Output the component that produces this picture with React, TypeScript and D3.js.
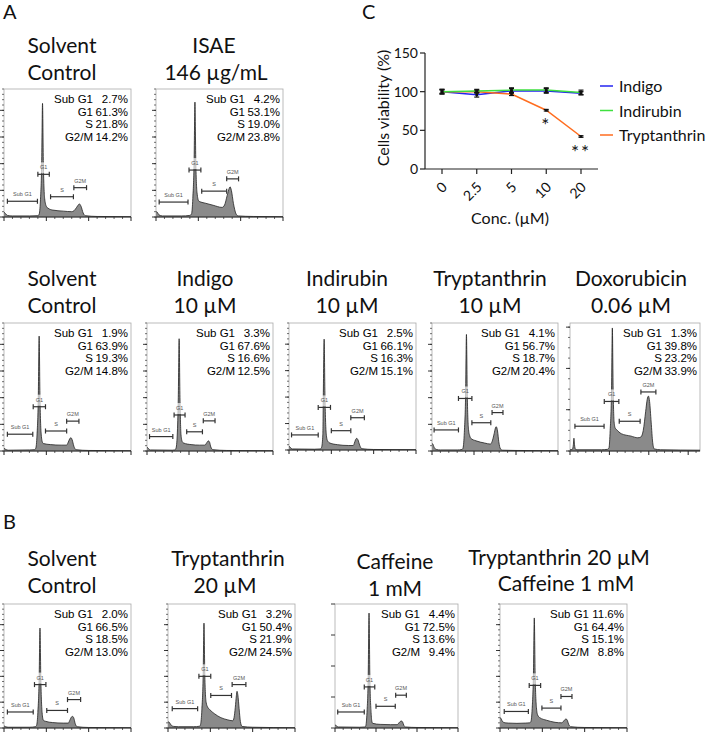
import React from 'react';
import * as d3 from 'd3';

type Pt = [number, number];
type Gate = [number, number, number];

const FONT_T = 'Lato, "Open Sans", sans-serif';
const FONT_S = '"Liberation Sans", Arial, sans-serif';
const MU = '\u00b5';

// ---------- Panel C data ----------
const concLabels = ['0', '2.5', '5', '10', '20'];
const indigoViability = [100, 96, 101, 101, 98];
const indigoErr = [3, 3, 3, 3, 2];
const indirubinViability = [100, 101, 102, 102, 99];
const indirubinErr = [3, 2, 3, 3, 3];
const tryptanthrinViability = [100, 100, 97, 76, 42];
const tryptanthrinErr = [2, 2, 2, 1, 1];
const viabilityTicks = [0, 50, 100, 150];
const significance = ['', '', '', '*', '**'];

// ---------- Histogram data: [DNA channel, count] ----------
const histA1Solvent: Pt[] = [[0,18],[4,12],[8,6],[20,4],[60,4],[80,5],[83,10],[86,60],[89,200],[91,426],[93,200],[96,70],[100,40],[104,33],[115,26],[140,22],[160,20],[168,28],[174,42],[178,49],[182,40],[187,15],[192,5],[220,2],[300,1]];
const histA1ISAE: Pt[] = [[0,20],[3,18],[7,8],[15,4],[60,4],[80,6],[84,12],[87,70],[90,210],[92,431],[94,210],[97,90],[101,60],[106,56],[116,52],[135,44],[156,36],[162,45],[168,80],[173,108],[175,113],[178,100],[183,50],[189,12],[194,4],[230,2],[300,1]];
const histA2Solvent: Pt[] = [[0,10],[4,6],[10,3],[60,4],[72,5],[75,10],[78,60],[81,200],[83,431],[85,200],[88,60],[91,32],[93,28],[110,24],[135,22],[148,22],[151,30],[155,45],[158,50],[161,42],[165,18],[170,5],[200,2],[300,1]];
const histA2Indigo: Pt[] = [[0,14],[3,10],[8,4],[60,3],[66,4],[69,10],[72,60],[74.5,200],[76.5,421],[78.5,200],[81,60],[84,35],[87,30],[105,24],[125,22],[138,22],[141,28],[144,35],[146,38],[149,33],[152,15],[157,5],[190,2],[300,1]];
const histA2Indirubin: Pt[] = [[0,14],[3,10],[8,4],[60,3],[74,4],[77,10],[80,60],[81,200],[83,419],[85,200],[88,60],[91,35],[97,26],[115,20],[140,17],[152,17],[154,24],[157,38],[160,44],[163,38],[167,18],[172,5],[200,2],[300,1]];
const histA2Trypt10: Pt[] = [[0,28],[2,26],[5,14],[10,6],[20,4],[60,4],[72,6],[74,12],[77,70],[80,210],[82,437],[84,210],[87,80],[90,56],[92,48],[105,38],[125,30],[139,26],[143,35],[148,65],[151,86],[153,91],[156,75],[159,35],[163,8],[168,3],[200,2],[300,1]];
const histA2Doxo: Pt[] = [[0,3],[6,4],[8.5,15],[10,31],[11.5,15],[14,4],[20,3],[80,3],[95,4],[99,8],[102,50],[105.5,150],[107.5,298],[109.5,150],[112,70],[115,55],[118,52],[130,42],[155,36],[172,32],[180,34],[186,50],[192,95],[196,125],[199,133],[202,120],[206,70],[210,20],[214,5],[230,3],[330,2]];
const histBSolvent: Pt[] = [[0,8],[4,5],[10,3],[60,3],[74,5],[77,10],[80,60],[83,190],[85,387],[87,190],[90,60],[93,30],[98,26],[115,21],[140,19],[152,19],[155,28],[159,42],[162,45],[165,38],[168,18],[173,5],[200,2],[300,1]];
const histBTrypt20: Pt[] = [[0,24],[3,22],[7,12],[14,6],[25,5],[60,5],[75,7],[77,14],[80,70],[83,200],[85,406],[87,200],[90,100],[94,80],[98,72],[110,55],[125,40],[140,32],[153,28],[156,40],[159,80],[161.5,125],[163,142],[165,128],[168,75],[171,25],[175,6],[200,3],[300,1]];
const histBCaffeine: Pt[] = [[0,12],[3,9],[8,4],[60,3],[73,4],[75,8],[78,60],[81,200],[83,445],[85,200],[88,60],[90,25],[92,18],[110,14],[135,13],[152,13],[155,18],[159,25],[162,27],[165,23],[168,10],[172,4],[200,2],[300,1]];
const histBCombo: Pt[] = [[0,40],[2,38],[6,25],[12,20],[20,19],[40,18],[60,19],[70,20],[73,25],[76,75],[79,210],[81,426],[83,210],[86,80],[89,50],[94,40],[110,30],[130,22],[146,20],[149,24],[153,32],[156,35],[159,30],[162,15],[167,5],[200,2],[300,1]];

// ---------- Phase percentages ----------
const phaseNames = ['Sub G1', 'G1', 'S', 'G2/M'];
const statsA1Solvent = [2.7, 61.3, 21.8, 14.2];
const statsA1ISAE = [4.2, 53.1, 19.0, 23.8];
const statsA2Solvent = [1.9, 63.9, 19.3, 14.8];
const statsA2Indigo = [3.3, 67.6, 16.6, 12.5];
const statsA2Indirubin = [2.5, 66.1, 16.3, 15.1];
const statsA2Trypt10 = [4.1, 56.7, 18.7, 20.4];
const statsA2Doxo = [1.3, 39.8, 23.2, 33.9];
const statsBSolvent = [2.0, 66.5, 18.5, 13.0];
const statsBTrypt20 = [3.2, 50.4, 21.9, 24.5];
const statsBCaffeine = [4.4, 72.5, 13.6, 9.4];
const statsBCombo = [11.6, 64.4, 15.1, 8.8];

// ---------- Gates: [from channel, to channel, marker level] ----------
const gateNames = ['Sub G1', 'G1', 'S', 'G2M'];
const gatesA1Solvent: Gate[] = [[8,79,59],[80,107,160],[110,164,76],[165,195,110]];
const gatesA1ISAE: Gate[] = [[7.5,75.6,56],[78,106,176],[108,167,97],[167,195,143]];
const gatesA2Solvent: Gate[] = [[8,68,63],[69,98,166],[98,148,75],[148,177,112]];
const gatesA2Indigo: Gate[] = [[6,61.5,54],[64.5,90.6,135],[94.5,132,72],[134,162,113]];
const gatesA2Indirubin: Gate[] = [[6,69,57],[69,98,161],[100,146,73],[146,178,122]];
const gatesA2Trypt10: Gate[] = [[5,63,79],[63,95,197],[95,140,106],[143,169,144]];
const gatesA2Doxo: Gate[] = [[12.5,86.5,60],[87,124,120],[125,178,72],[180,218,143]];
const gatesBSolvent: Gate[] = [[8,69,62],[72,99,168],[101,150,68],[150,181,110]];
const gatesBTrypt20: Gate[] = [[10,70,75],[73,101,200],[101,150,126],[151.5,184,168]];
const gatesBCaffeine: Gate[] = [[6.6,71.4,62],[71.4,97,159],[100,147,84],[148,174,127]];
const gatesBCombo: Gate[] = [[10,67,64],[69,96,165],[99,144,77],[144,170,122]];

interface HistPanel {
  id: string;
  title: string[];
  tx: number[];
  ty: number[];
  x: number; y: number; w: number; h: number;
  xMax: number; yMax: number; yStep: number; yMinor: number;
  hist: Pt[]; stats: number[]; gates: Gate[];
}

const panels: HistPanel[] = [
  { id: 'a1', title: ['Solvent', 'Control'], tx: [62, 62], ty: [53, 80], x: 4, y: 89, w: 127, h: 128, xMax: 300, yMax: 480, yStep: 100, yMinor: 20, hist: histA1Solvent, stats: statsA1Solvent, gates: gatesA1Solvent },
  { id: 'a2', title: ['ISAE', `146 ${MU}g/mL`], tx: [214, 216], ty: [53, 80], x: 156, y: 89, w: 127, h: 128, xMax: 300, yMax: 480, yStep: 100, yMinor: 20, hist: histA1ISAE, stats: statsA1ISAE, gates: gatesA1ISAE },
  { id: 'b1', title: ['Solvent', 'Control'], tx: [62, 62], ty: [286, 313], x: 4, y: 323, w: 127, h: 128, xMax: 300, yMax: 480, yStep: 100, yMinor: 20, hist: histA2Solvent, stats: statsA2Solvent, gates: gatesA2Solvent },
  { id: 'b2', title: ['Indigo', `10 ${MU}M`], tx: [205, 205], ty: [286, 313], x: 147, y: 323, w: 126, h: 128, xMax: 300, yMax: 480, yStep: 100, yMinor: 20, hist: histA2Indigo, stats: statsA2Indigo, gates: gatesA2Indigo },
  { id: 'b3', title: ['Indirubin', `10 ${MU}M`], tx: [347, 347], ty: [286, 313], x: 289, y: 323, w: 127, h: 127, xMax: 300, yMax: 480, yStep: 100, yMinor: 20, hist: histA2Indirubin, stats: statsA2Indirubin, gates: gatesA2Indirubin },
  { id: 'b4', title: ['Tryptanthrin', `10 ${MU}M`], tx: [490, 490], ty: [286, 313], x: 432, y: 323, w: 126, h: 128, xMax: 300, yMax: 480, yStep: 100, yMinor: 20, hist: histA2Trypt10, stats: statsA2Trypt10, gates: gatesA2Trypt10 },
  { id: 'b5', title: ['Doxorubicin', `0.06 ${MU}M`], tx: [631, 631], ty: [286, 313], x: 570, y: 323, w: 130, h: 128, xMax: 330, yMax: 310, yStep: 100, yMinor: 25, hist: histA2Doxo, stats: statsA2Doxo, gates: gatesA2Doxo },
  { id: 'c1', title: ['Solvent', 'Control'], tx: [62, 62], ty: [566, 593], x: 4, y: 604, w: 127, h: 124, xMax: 300, yMax: 480, yStep: 100, yMinor: 20, hist: histBSolvent, stats: statsBSolvent, gates: gatesBSolvent },
  { id: 'c2', title: ['Tryptanthrin', `20 ${MU}M`], tx: [228, 225], ty: [566, 593], x: 168, y: 604, w: 127, h: 124, xMax: 300, yMax: 480, yStep: 100, yMinor: 20, hist: histBTrypt20, stats: statsBTrypt20, gates: gatesBTrypt20 },
  { id: 'c3', title: ['Caffeine', '1 mM'], tx: [395, 395], ty: [569, 596], x: 335, y: 604, w: 123, h: 124, xMax: 300, yMax: 480, yStep: 120, yMinor: 0, hist: histBCaffeine, stats: statsBCaffeine, gates: gatesBCaffeine },
  { id: 'c4', title: [`Tryptanthrin 20 ${MU}M`, 'Caffeine 1 mM'], tx: [559, 566], ty: [565, 591], x: 500, y: 604, w: 127, h: 124, xMax: 300, yMax: 480, yStep: 100, yMinor: 20, hist: histBCombo, stats: statsBCombo, gates: gatesBCombo },
];

function Histogram({ p }: { p: HistPanel }) {
  const x = d3.scaleLinear().domain([0, p.xMax]).range([p.x, p.x + p.w]);
  const y = d3.scaleLinear().domain([0, p.yMax]).range([p.y + p.h, p.y]);
  const area = d3.area<Pt>().x(d => x(d[0])).y0(y(0)).y1(d => y(d[1])).curve(d3.curveMonotoneX);
  const line = d3.line<Pt>().x(d => x(d[0])).y(d => y(d[1])).curve(d3.curveMonotoneX);
  const clipId = `clip-${p.id}`;
  const xMinorTicks = d3.range(0, p.xMax + 0.01, 20);
  const yMajorTicks = d3.range(0, p.yMax + 0.01, p.yStep);
  const yMinorTicks = p.yMinor > 0 ? d3.range(0, p.yMax + 0.01, p.yMinor) : [];
  const right = p.x + p.w;
  return (
    <g>
      <defs>
        <clipPath id={clipId}><rect x={p.x} y={p.y} width={p.w} height={p.h} /></clipPath>
      </defs>
      <rect x={p.x} y={p.y} width={p.w} height={p.h} fill="#fff" stroke="#aaa" strokeWidth={0.8} />
      <g clipPath={`url(#${clipId})`}>
        <path d={area(p.hist) || ''} fill="#8a8a8a" />
        <path d={line(p.hist) || ''} fill="none" stroke="#222" strokeWidth={0.8} />
      </g>
      {yMinorTicks.map((t, i) => (
        <line key={`ym${i}`} x1={p.x - 2} x2={p.x} y1={y(t)} y2={y(t)} stroke="#333" strokeWidth={0.7} />
      ))}
      {yMajorTicks.map((t, i) => (
        <line key={`yM${i}`} x1={p.x - 4} x2={p.x} y1={y(t)} y2={y(t)} stroke="#222" strokeWidth={0.9} />
      ))}
      <line x1={p.x} x2={right} y1={p.y + p.h} y2={p.y + p.h} stroke="#222" strokeWidth={1} />
      {xMinorTicks.map((t, i) => {
        const major = Math.abs(t % 100) < 0.01;
        return <line key={`x${i}`} x1={x(t)} x2={x(t)} y1={p.y + p.h} y2={p.y + p.h + (major ? 4 : 2)} stroke="#222" strokeWidth={major ? 1 : 0.7} />;
      })}
      {p.gates.map((g, i) => {
        const x0 = x(g[0]), x1 = x(g[1]), gy = y(g[2]);
        return (
          <g key={`g${i}`}>
            {i === 1 && <rect x={x0} y={gy - 12} width={x1 - x0} height={11} fill="#fff" opacity={0.65} />}
            <text x={(x0 + x1) / 2} y={gy - 5} fontSize={5.5} fontFamily={FONT_S} fill="#555" textAnchor="middle">{gateNames[i]}</text>
            <line x1={x0} x2={x1} y1={gy} y2={gy} stroke="#333" strokeWidth={1.2} />
            <line x1={x0} x2={x0} y1={gy - 2.5} y2={gy + 2.5} stroke="#333" strokeWidth={1.2} />
            <line x1={x1} x2={x1} y1={gy - 2.5} y2={gy + 2.5} stroke="#333" strokeWidth={1.2} />
          </g>
        );
      })}
      {p.stats.map((v, i) => (
        <g key={`s${i}`}>
          <text x={right - 38} y={p.y + 14 + i * 12.6} textAnchor="end" fontFamily={FONT_S} fontSize={11.5} fill="#000">{phaseNames[i]}</text>
          <text x={right - 3} y={p.y + 14 + i * 12.6} textAnchor="end" fontFamily={FONT_S} fontSize={11.5} fill="#000">{`${v.toFixed(1)}%`}</text>
        </g>
      ))}
      {p.title.map((t, i) => (
        <text key={`t${i}`} x={p.tx[i]} y={p.ty[i]} fontFamily={FONT_T} fontSize={21} textAnchor="middle" fill="#111">{t}</text>
      ))}
    </g>
  );
}

function ViabilityChart() {
  const cx = d3.scalePoint<string>().domain(concLabels).range([442, 581]);
  const cy = d3.scaleLinear().domain([0, 150]).range([169, 53]);
  const series = [
    { name: 'Indigo', values: indigoViability, err: indigoErr, color: '#2424f0' },
    { name: 'Tryptanthrin', values: tryptanthrinViability, err: tryptanthrinErr, color: '#ff6d1f' },
    { name: 'Indirubin', values: indirubinViability, err: indirubinErr, color: '#3fe03f' },
  ];
  const legend = [
    { name: 'Indigo', color: '#2424f0' },
    { name: 'Indirubin', color: '#3fe03f' },
    { name: 'Tryptanthrin', color: '#ff6d1f' },
  ];
  const line = d3.line<number>().x((_, i) => cx(concLabels[i]) as number).y(d => cy(d));
  return (
    <g fontFamily={FONT_T} fill="#111">
      <line x1={425} x2={425} y1={cy(150)} y2={cy(0)} stroke="#222" strokeWidth={1.2} />
      <line x1={425} x2={598} y1={cy(0)} y2={cy(0)} stroke="#222" strokeWidth={1.2} />
      {viabilityTicks.map(t => (
        <g key={`yt${t}`}>
          <line x1={420} x2={425} y1={cy(t)} y2={cy(t)} stroke="#222" strokeWidth={1.2} />
          <text x={418} y={cy(t) + 5} fontSize={14} textAnchor="end">{t}</text>
        </g>
      ))}
      {concLabels.map(c => {
        const px = cx(c) as number;
        return (
          <g key={`xt${c}`}>
            <line x1={px} x2={px} y1={cy(0)} y2={cy(0) + 5} stroke="#222" strokeWidth={1.2} />
            <text transform={`translate(${px + 6},${188}) rotate(-45)`} fontSize={14} textAnchor="end">{c}</text>
          </g>
        );
      })}
      <text transform="translate(389,108) rotate(-90)" fontSize={16} textAnchor="middle">Cells viability (%)</text>
      <text x={510} y={224} fontSize={16} textAnchor="middle">{`Conc. (${MU}M)`}</text>
      {series.map(s => (
        <path key={s.name} d={line(s.values) || ''} fill="none" stroke={s.color} strokeWidth={1.5} />
      ))}
      {series.map(s => s.values.map((v, i) => {
        const px = cx(concLabels[i]) as number;
        const top = cy(v + s.err[i]), bot = cy(v - s.err[i]);
        return (
          <g key={`${s.name}-e${i}`} stroke="#111" strokeWidth={1.2}>
            <line x1={px} x2={px} y1={top} y2={bot} />
            <line x1={px - 2.5} x2={px + 2.5} y1={top} y2={top} />
            <line x1={px - 2.5} x2={px + 2.5} y1={bot} y2={bot} />
            <rect x={px - 1.3} y={cy(v) - 1.3} width={2.6} height={2.6} fill="#111" stroke="none" />
          </g>
        );
      }))}
      {significance.map((s, i) => s ? (
        <text key={`sig${i}`} x={cx(concLabels[i]) as number} y={cy(tryptanthrinViability[i]) + 22} fontSize={19} letterSpacing={2} textAnchor="middle">{s}</text>
      ) : null)}
      {legend.map((l, i) => (
        <g key={`lg${l.name}`}>
          <line x1={600} x2={613} y1={86 + i * 24.5} y2={86 + i * 24.5} stroke={l.color} strokeWidth={1.5} />
          <text x={619} y={86 + i * 24.5 + 6} fontSize={16}>{l.name}</text>
        </g>
      ))}
    </g>
  );
}

export default function App() {
  return (
    <svg width={708} height={732} viewBox="0 0 708 732" style={{ position: 'absolute', left: 0, top: 0, background: '#fff' }}>
      <rect x={0} y={0} width={708} height={732} fill="#fff" />
      <text x={3} y={18.5} fontFamily={FONT_T} fontSize={20} fill="#111">A</text>
      <text x={362} y={18.5} fontFamily={FONT_T} fontSize={20} fill="#111">C</text>
      <text x={3} y={529} fontFamily={FONT_T} fontSize={20} fill="#111">B</text>
      {panels.map(p => <Histogram key={p.id} p={p} />)}
      <ViabilityChart />
    </svg>
  );
}
